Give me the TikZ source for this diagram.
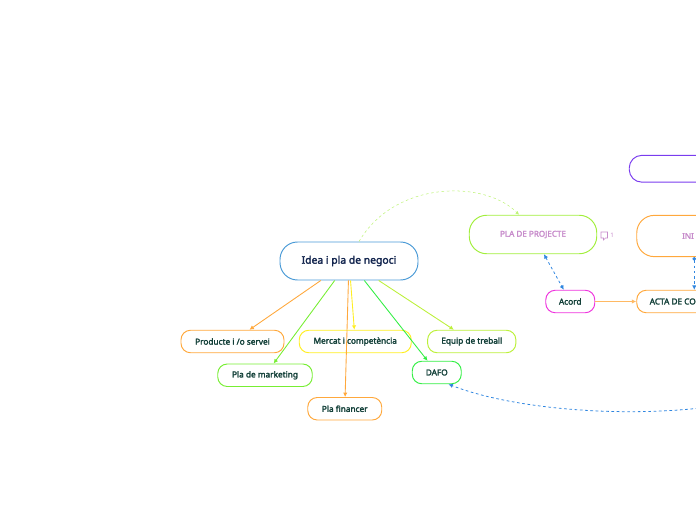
\documentclass[tikz,border=0pt]{standalone}
\usepackage{xcolor}
\usepackage{fontspec}
\setmainfont{Noto Sans}[BoldFont={Noto Sans}, BoldFeatures={FakeBold=2.4}]
\usetikzlibrary{positioning, arrows.meta}
\definecolor{mainblue}{HTML}{4A9AD6}
\definecolor{linkblue}{HTML}{2F86E0}
\definecolor{nodeorange}{HTML}{FFA83C}
\definecolor{nodeyellow}{HTML}{FFEE22}
\definecolor{nodelime}{HTML}{BCF03A}
\definecolor{nodegreen}{HTML}{77EE33}
\definecolor{dafogreen}{HTML}{33EE44}
\definecolor{planlime}{HTML}{A2EE3C}
\definecolor{nodepurple}{HTML}{7A3CEE}
\definecolor{nodepink}{HTML}{EE33DD}
\definecolor{planpurple}{HTML}{C78CCB}
\definecolor{childtext}{HTML}{123F38}
\definecolor{maintext}{HTML}{14264F}
\begin{document}
\begin{tikzpicture}[
    central/.style={rectangle, draw=mainblue, line width=1.1pt, rounded corners=0.7cm, minimum width=5.52cm, minimum height=1.52cm, inner sep=0pt, text=maintext, font=\fontsize{11.8}{13}\selectfont\bfseries},
    child/.style={rectangle, draw, line width=1.1pt, rounded corners=0.38cm, minimum height=0.9cm, inner sep=0pt, text=childtext, font=\fontsize{9.4}{11}\selectfont\bfseries},
    plan/.style={rectangle, draw, line width=1.1pt, rounded corners=0.7cm, minimum width=4.6cm, minimum height=1.6cm, inner sep=0pt, text=planpurple, font=\fontsize{9.2}{11}\selectfont\bfseries},
    branch/.style={-{Latex[length=5pt,width=5pt]}, line width=1pt},
    link/.style={{Latex[length=5pt,width=5pt]}-{Latex[length=5pt,width=5pt]}, linkblue, dashed, line width=0.9pt}
]
    \useasboundingbox (0, 0) rectangle (27.84, 20.8);

    % Central idea
    \node[central] (idea) at (13.96, 10.36) {Idea i pla de negoci};

    % Branches below the idea
    \node[child, draw=nodeorange, minimum width=4.12cm] (producte) at (9.30, 7.14) {Producte i /o servei};
    \node[child, draw=nodeyellow, minimum width=4.48cm] (mercat) at (14.21, 7.14) {Mercat i competència};
    \node[child, draw=nodelime, minimum width=3.53cm] (equip) at (18.87, 7.14) {Equip de treball};
    \node[child, draw=nodegreen, minimum width=3.78cm] (marketing) at (10.60, 5.79) {Pla de marketing};
    \node[child, draw=dafogreen, minimum width=1.96cm] (dafo) at (17.47, 5.90) {DAFO};
    \node[child, draw=nodeorange, minimum width=2.96cm] (financer) at (13.79, 4.45) {Pla financer};

    % Project plan on the right
    \node[plan, draw=planlime, minimum width=5.10cm, minimum height=1.54cm] (projecte) at (21.32, 11.42) {PLA DE PROJECTE};
    \node[child, draw=nodepink, minimum width=1.96cm] (acord) at (22.81, 8.74) {Acord};

    % Nodes cut by the right edge
    \node[child, draw=nodeorange, minimum width=4.6cm] (acta) at (27.77, 8.74) {ACTA DE CO\kern1.72cm};
    \node[plan, draw=nodeorange, minimum height=1.65cm] (inici) at (27.77, 11.36) {INI\kern0.5cm};
    \node[plan, draw=nodepurple, minimum width=5cm, minimum height=1.07cm, rounded corners=0.5cm] (buit) at (27.67, 14.05) {};

    % Comment mark beside the plan
    \draw[planpurple, line width=0.6pt] (24.04, 11.52) -- (24.30, 11.52) -- (24.30, 11.28) -- (24.22, 11.28) -- (24.14, 11.2) -- (24.14, 11.28) -- (24.04, 11.28) -- cycle;
    \node[inner sep=0pt, text=planpurple, font=\fontsize{7}{8}\selectfont] (comptador) at (24.48, 11.38) {1};

    % Arrows from the idea
    \draw[branch, nodeorange] (idea) -- (producte);
    \draw[branch, nodegreen] (idea) -- (marketing);
    \draw[branch, nodeyellow] (idea) -- (mercat);
    \draw[branch, nodeorange] (idea) -- (financer);
    \draw[branch, dafogreen] (idea) -- (dafo);
    \draw[branch, nodelime] (idea) -- (equip);

    % Dashed relations
    \draw[-{Latex[length=4pt,width=4pt]}, planlime!70, dashed, line width=0.6pt] ([xshift=0.4cm]idea.north) .. controls (15.8, 13.6) and (19.4, 13.6) .. ([xshift=-0.56cm]projecte.north);
    \draw[link] (projecte) -- (acord);
    \draw[{Circle[length=4pt]}-{Latex[length=5pt,width=5pt]}, linkblue, dashed, line width=0.9pt] (inici) -- (acta);
    \coordinate (sortida) at (29.6, 4.72);
    \draw[-{Latex[length=5pt,width=5pt]}, linkblue, dashed, line width=0.9pt] (sortida) .. controls (26.0, 4.0) and (20.8, 4.32) .. (dafo.-45);

    % Agreement to charter
    \draw[-{Latex[length=5pt,width=5pt]}, nodeorange!80, line width=1.6pt] (acord) -- (acta);
\end{tikzpicture}
\end{document}
